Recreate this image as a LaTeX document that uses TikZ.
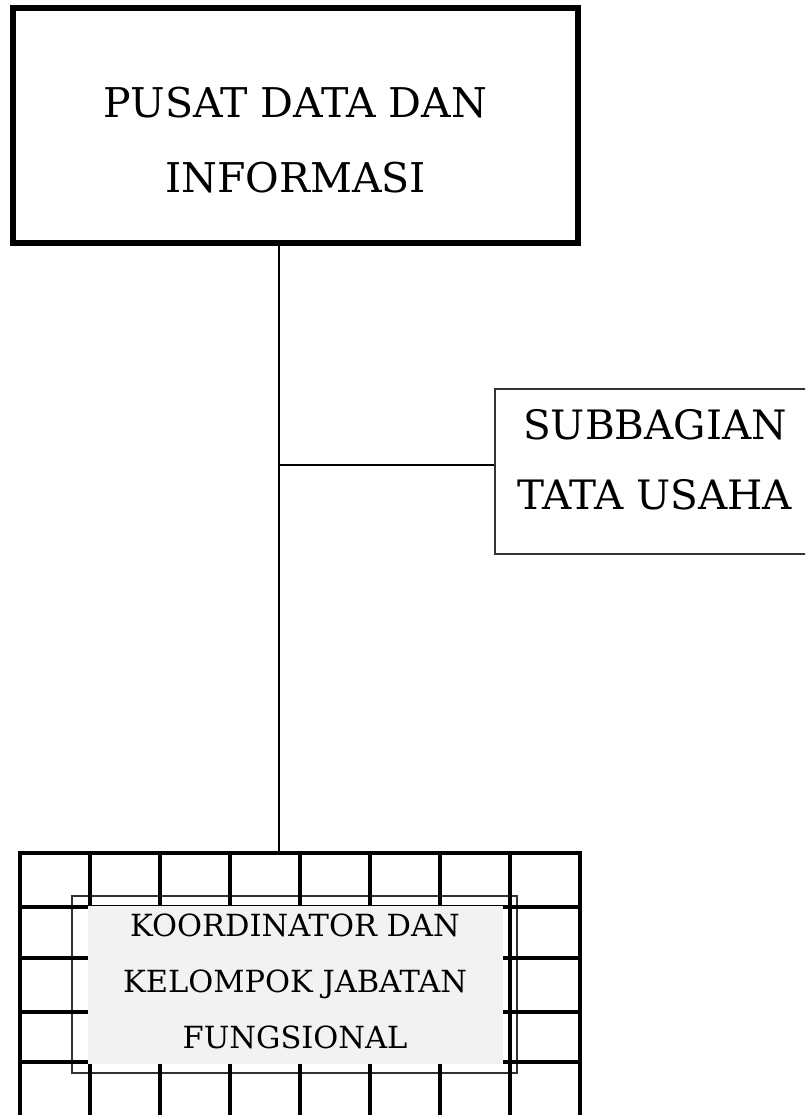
\documentclass[tikz,border=0pt]{standalone}
\usepackage{fontspec}
\setmainfont{DejaVu Serif}
\begin{document}
\begin{tikzpicture}[x=1pt,y=-1pt,
  topbox/.style={draw=black, line width=6pt, minimum width=565pt, minimum height=235pt, inner sep=0pt},
  subbox/.style={draw=black!80, line width=1.5pt, minimum width=320pt, minimum height=165pt, inner sep=0pt},
  headtext/.style={align=center, inner sep=0pt, font=\fontsize{41}{75}\selectfont},
  unittext/.style={align=center, inner sep=0pt, font=\fontsize{40.5}{70}\selectfont},
  smalltext/.style={align=center, inner sep=0pt, font=\fontsize{30.5}{56}\selectfont},
  gridline/.style={line width=4pt, black},
  frameline/.style={line width=1.5pt, draw=black!80},
  trunkline/.style={line width=1.8pt, black}]
  \useasboundingbox (0,0) rectangle (805,1115);
  \clip (0,0) rectangle (805,1115);

  % head office box
  \node[topbox] (pusat) at (295.5,125.5) {};
  \node[headtext] (pusattxt) at (295.5,140.5) {PUSAT DATA DAN\\INFORMASI};

  % administration sub-unit
  \node[subbox] (tu) at (655,471.5) {};
  \node[unittext] (tutxt) at (655,460) {SUBBAGIAN\\TATA USAHA};

  % functional group: thin frame, grid, shaded label panel
  \draw[frameline] (72,896) rectangle (517,1073);
  \coordinate (gridtop) at (300,853);
  \draw[gridline] (18,853) -- (582,853);
  \foreach \x in {20,90,160,230,300,370,440,510,580}
    \draw[gridline] (\x,853) -- (\x,1125);
  \foreach \y in {907,958,1012,1062}
    \draw[gridline] (20,\y) -- (580,\y);
  \fill[black!5] (88,906) rectangle (503,1064);
  \node[smalltext] (jf) at (295,981.5) {KOORDINATOR DAN\\KELOMPOK JABATAN\\FUNGSIONAL};

  % connectors
  \coordinate (junction) at (279,465);
  \draw[trunkline] (pusat.south -| junction) -- (junction |- gridtop);
  \draw[trunkline] (junction) -- (junction -| tu.west);
\end{tikzpicture}
\end{document}
